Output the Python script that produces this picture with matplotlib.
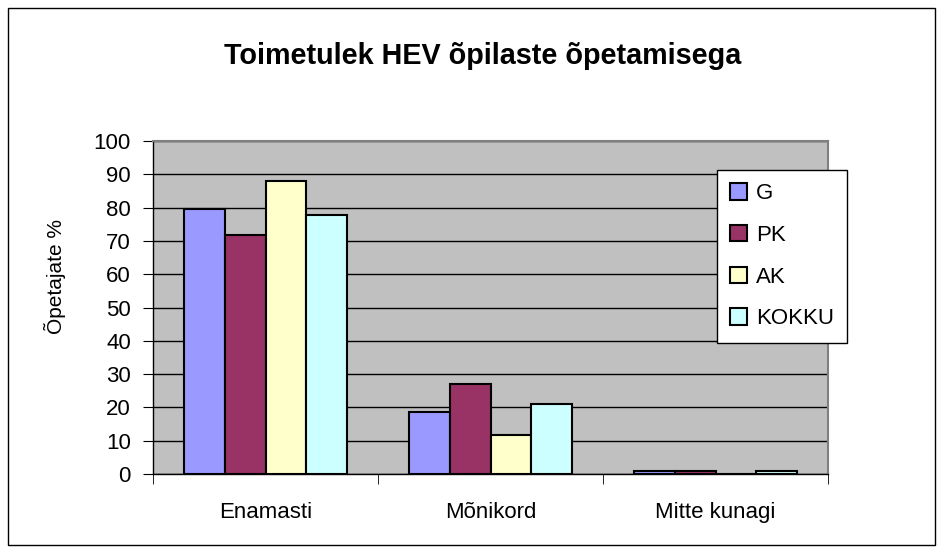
import numpy as np
import matplotlib.pyplot as plt
from matplotlib.patches import Rectangle

plt.rcParams['font.family'] = ['Liberation Sans', 'DejaVu Sans']

# Data
categories = ['Enamasti', 'Mõnikord', 'Mitte kunagi']
series = ['G', 'PK', 'AK', 'KOKKU']
g_vals = [79.6, 18.5, 1.0]
pk_vals = [71.9, 26.9, 1.0]
ak_vals = [88.0, 11.7, 0.0]
kokku_vals = [77.9, 20.9, 1.0]
colors = ['#9999FF', '#993366', '#FFFFCC', '#CCFFFF']

fig = plt.figure(figsize=(9.43, 5.52), dpi=100)
ax = fig.add_axes([153 / 943, 1 - 474 / 552, 675 / 943, 333 / 552])

# outer chart frame
fig.patches.append(Rectangle((8 / 943, 1 - 545 / 552), 927 / 943, 537 / 552,
                             transform=fig.transFigure, fill=False,
                             edgecolor='black', linewidth=1))

x = np.arange(len(categories))
width = 1 / 5.5
all_vals = [g_vals, pk_vals, ak_vals, kokku_vals]
for i, (name, vals) in enumerate(zip(series, all_vals)):
    offs = (i - 1.5) * width
    ax.bar(x + offs, vals, width, color=colors[i], edgecolor='black',
           linewidth=1.5, label=name, zorder=3)

ax.set_facecolor('#C0C0C0')
ax.set_xlim(-0.5, 2.5)
ax.set_ylim(0, 100)
ax.set_yticks(range(0, 101, 10))
ax.yaxis.grid(True, color='black', linewidth=1, zorder=0)
ax.set_axisbelow(True)

ax.set_xticks(x)
ax.set_xticklabels(categories, fontsize=16)
ax.tick_params(axis='x', length=0, pad=20)
ax.set_xticks([-0.5, 0.5, 1.5, 2.5], minor=True)
ax.tick_params(axis='x', which='minor', length=7, direction='out', color='black')
ax.tick_params(axis='y', labelsize=16, length=7, direction='out', pad=9)

for s in ['top', 'right']:
    ax.spines[s].set_color('#808080')
    ax.spines[s].set_linewidth(1.5)
for s in ['left', 'bottom']:
    ax.spines[s].set_color('black')
    ax.spines[s].set_linewidth(1)

ax.set_ylabel('Õpetajate %', fontsize=15)
ax.yaxis.set_label_coords(66 / 943, 0.5, transform=fig.transFigure)
fig.text(483 / 943, 1 - 56 / 552, 'Toimetulek HEV õpilaste õpetamisega',
         ha='center', va='center', fontsize=20.7, fontweight='bold')

leg = ax.legend(loc='upper left', bbox_to_anchor=(717 / 943, 1 - 170 / 552),
                bbox_transform=fig.transFigure, fontsize=16, frameon=True,
                fancybox=False, edgecolor='black', framealpha=1,
                handlelength=0.75, handleheight=0.75, handletextpad=0.4,
                labelspacing=0.93, borderpad=0.6, borderaxespad=0)
leg.get_frame().set_linewidth(1)

fig.savefig('out.png', dpi=100)
